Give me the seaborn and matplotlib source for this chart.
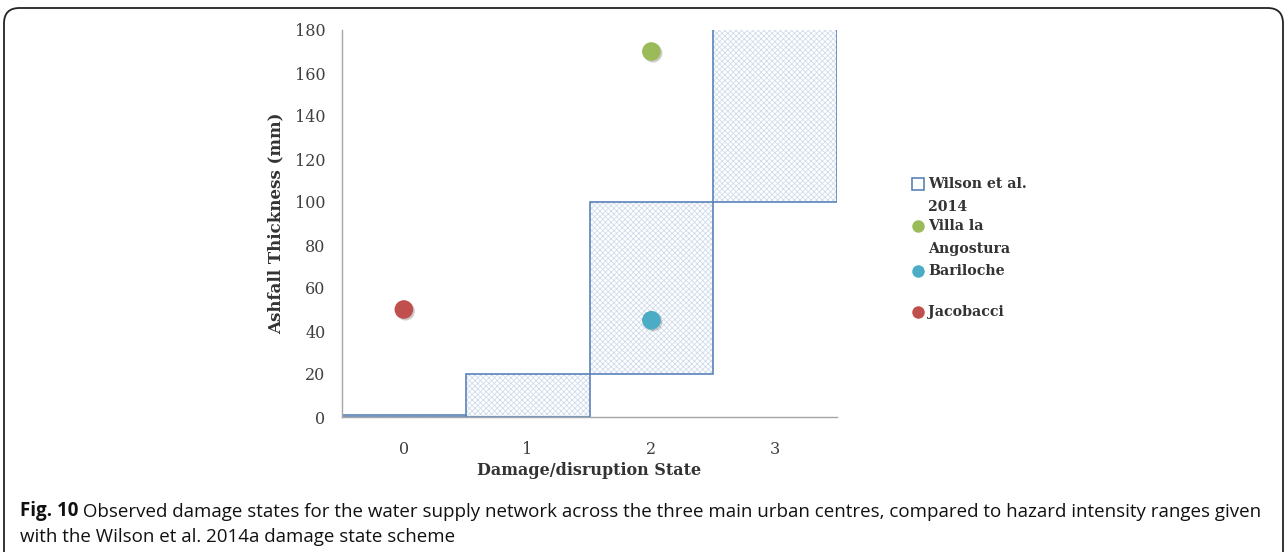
import numpy as np
import matplotlib
matplotlib.use("Agg")
import matplotlib.pyplot as plt
import matplotlib.patheffects as pe
from matplotlib.patches import FancyBboxPatch
from matplotlib.lines import Line2D
import pandas as pd
import seaborn as sns

# ── data ─────────────────────────────────────────────
states = [0, 1, 2, 3]
wilson_low = [0, 0, 20, 100]
wilson_high = [1, 20, 100, 200]   # state 3 is open ended (>100 mm)

cities = ["Villa la Angostura", "Bariloche", "Jacobacci"]
city_state = [2, 2, 0]
city_ash = [170, 45, 50]
city_colors = ["#9bbb59", "#4bacc6", "#c0504d"]

yticks = [0, 20, 40, 60, 80, 100, 120, 140, 160, 180]

caption_bold = "Fig. 10"
caption_1 = (" Observed damage states for the water supply network across the three main "
             "urban centres, compared to hazard intensity ranges given")
caption_2 = "with the Wilson et al. 2014a damage state scheme"

# ── style ────────────────────────────────────────────
sns.set_style("white")
plt.rcParams["font.family"] = ["DejaVu Serif"]
plt.rcParams["hatch.linewidth"] = 0.6

edge_col = "#5a83b9"
hatch_col = "#cfdbeb"
grey = "#a6a6a6"
txt = "#333333"

W, H = 1287, 552
fig = plt.figure(figsize=(W / 100, H / 100), dpi=100)
ax = fig.add_axes([342 / W, 1 - 417 / H, (837 - 342) / W, (417 - 30) / H])

# ── Wilson et al. 2014 boxes ─────────────────────────
heights = np.array(wilson_high) - np.array(wilson_low)
ax.bar(states, heights, bottom=wilson_low, width=1.0, facecolor="white",
       edgecolor=hatch_col, hatch="xxxxxx", linewidth=0, zorder=1)
ax.bar(states, heights, bottom=wilson_low, width=1.0, fill=False,
       edgecolor=edge_col, linewidth=1.2, zorder=2)

# ── observed points ──────────────────────────────────
df = pd.DataFrame({"city": cities, "state": city_state, "ash": city_ash})
sns.scatterplot(data=df, x="state", y="ash", hue="city", palette=city_colors,
                s=180, edgecolor="none", legend=False, ax=ax, zorder=3,
                path_effects=[pe.SimplePatchShadow(offset=(1.2, -1.2), shadow_rgbFace="black",
                                                   alpha=0.2), pe.Normal()])

# ── axes ─────────────────────────────────────────────
ax.set_xlim(-0.5, 3.5)
ax.set_ylim(0, 180)
ax.set_xticks(states)
ax.set_xticks([-0.5, 0.5, 1.5, 2.5, 3.5], minor=True)
ax.set_yticks(yticks)
ax.tick_params(axis="x", which="major", length=0, pad=17, labelsize=11.5, labelcolor="#404040")
ax.tick_params(axis="x", which="minor", length=6, width=1, color=grey, direction="out")
ax.tick_params(axis="y", length=6, width=1, color=grey, direction="out", pad=6,
               labelsize=11.5, labelcolor="#404040")
for s in ["top", "right"]:
    ax.spines[s].set_visible(False)
for s in ["left", "bottom"]:
    ax.spines[s].set_color(grey)
    ax.spines[s].set_linewidth(1.0)
ax.set_xlabel("Damage/disruption State", fontsize=11.5, fontweight="bold", color=txt, labelpad=3)
ax.set_ylabel("Ashfall Thickness (mm)", fontsize=12, fontweight="bold", color=txt, labelpad=7)

# ── legend (manual, text wraps like the original) ────
lx, tx = 918, 928
fig.add_artist(Line2D([lx / W], [1 - 184 / H], marker="s", markersize=8, markerfacecolor="white",
                      markeredgecolor=edge_col, markeredgewidth=1.2, transform=fig.transFigure))
for y, c in zip([226, 271, 312], city_colors):
    fig.add_artist(Line2D([lx / W], [1 - y / H], marker="o", markersize=9, markerfacecolor=c,
                          markeredgecolor="none", transform=fig.transFigure))
legend_lines = [("Wilson et al.", 184), ("2014", 207), ("Villa la", 226), ("Angostura", 249),
                ("Bariloche", 271), ("Jacobacci", 312)]
for s, y in legend_lines:
    fig.text(tx / W, 1 - y / H, s, fontsize=10.2, fontweight="bold", color=txt,
             ha="left", va="center")

# ── frame and caption ────────────────────────────────
frame = FancyBboxPatch((4 / W, -0.05), (1283 - 4) / W, (552 - 8) / H + 0.05,
                       boxstyle="round,pad=0,rounding_size=0.012", transform=fig.transFigure,
                       fill=False, edgecolor="#222222", linewidth=1.3, mutation_aspect=W / H)
fig.add_artist(frame)

cap_font = ["Open Sans", "DejaVu Sans"]
t1 = fig.text(20 / W, 1 - 521 / H, caption_bold, fontsize=13.5, fontweight="bold",
              family=cap_font, color="#111111", ha="left", va="bottom")
ax.annotate(caption_1, xy=(1, 0), xycoords=t1, fontsize=13.5, family=cap_font,
            color="#111111", ha="left", va="bottom", annotation_clip=False)
fig.text(20 / W, 1 - 546 / H, caption_2, fontsize=13.5, family=cap_font,
         color="#111111", ha="left", va="bottom")

fig.savefig("out.png", dpi=100)
